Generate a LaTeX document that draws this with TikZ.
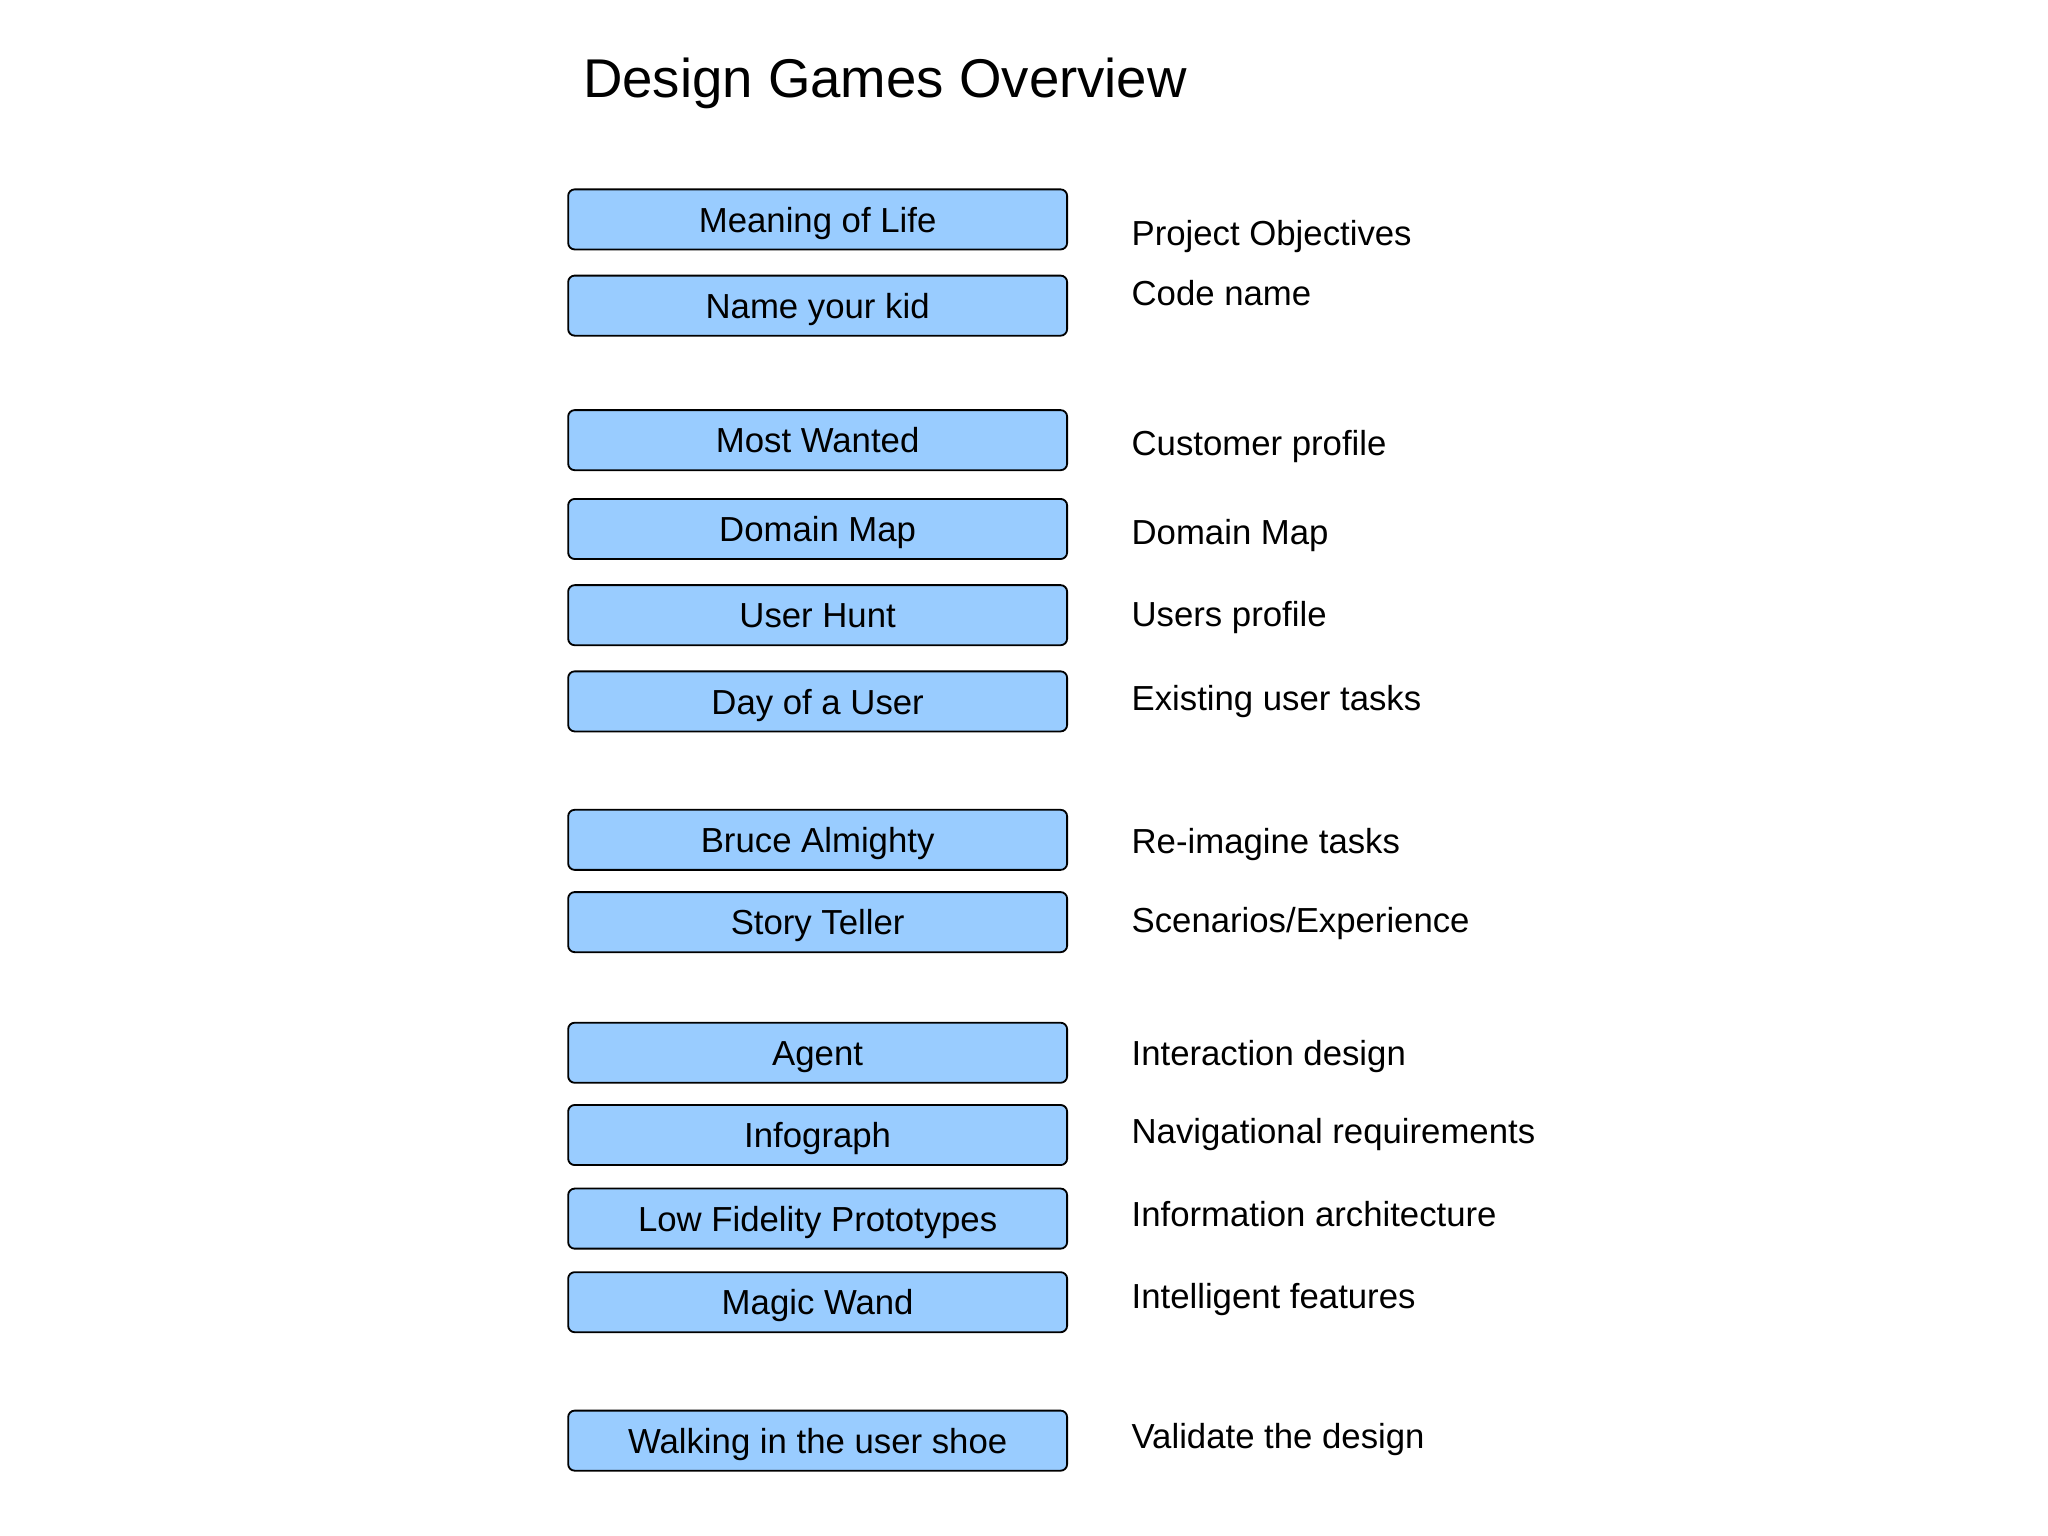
\documentclass[tikz,border=0pt]{standalone}
\usepackage{fontspec}
\setmainfont{Liberation Sans}
\usetikzlibrary{positioning}
\definecolor{skyfill}{HTML}{99CCFF}
\tikzset{
  game/.style={rectangle, rounded corners=2.5pt, draw=black, fill=skyfill, line width=0.7pt,
               minimum width=191pt, minimum height=23pt, inner sep=0pt, outer sep=0pt,
               text height=9.7pt, text depth=0pt, font=\fontsize{13.3}{16}\selectfont},
  outcome/.style={anchor=west, inner sep=0pt, text height=9.7pt, text depth=0pt,
                  font=\fontsize{13.3}{16}\selectfont},
  heading/.style={anchor=west, inner sep=0pt, font=\fontsize{20.9}{25}\selectfont}
}
\begin{document}
\begin{tikzpicture}[x=0.5pt, y=0.5pt, node distance=10pt]
  \useasboundingbox (0,0) rectangle (1568,-1176);
  \node[heading] (title) at (446,-64) {Design Games Overview};
  % games
  \node[game] (life) at (626,-168) {Meaning of Life};
  \node[game, below=of life] (kid) {Name your kid};
  \node[game, below=28.5pt of kid] (wanted) {Most Wanted};
  \node[game, below=11pt of wanted] (dmap) {Domain Map};
  \node[game, below=of dmap] (hunt) {User Hunt};
  \node[game, below=of hunt] (day) {Day of a User};
  \node[game, below=30pt of day] (bruce) {Bruce Almighty};
  \node[game, below=8.5pt of bruce] (story) {Story Teller};
  \node[game, below=27pt of story] (agent) {Agent};
  \node[game, below=8.5pt of agent] (info) {Infograph};
  \node[game, below=9pt of info] (lofi) {Low Fidelity Prototypes};
  \node[game, below=9pt of lofi] (wand) {Magic Wand};
  \node[game, below=30pt of wand] (shoe) {Walking in the user shoe};
  % outcomes
  \node[outcome] (objectives) at (866,-178) {Project Objectives};
  \node[outcome] (codename) at (866,-224) {Code name};
  \node[outcome] (customer) at (866,-339) {Customer profile};
  \node[outcome] (domain) at (866,-407) {Domain Map};
  \node[outcome] (users) at (866,-470) {Users profile};
  \node[outcome] (tasks) at (866,-534) {Existing user tasks};
  \node[outcome] (reimagine) at (866,-644) {Re-imagine tasks};
  \node[outcome] (scenarios) at (866,-704) {Scenarios/Experience};
  \node[outcome] (interaction) at (866,-806) {Interaction design};
  \node[outcome] (navigation) at (866,-866) {Navigational requirements};
  \node[outcome] (architecture) at (866,-929) {Information architecture};
  \node[outcome] (intelligent) at (866,-992) {Intelligent features};
  \node[outcome] (validate) at (866,-1099) {Validate the design};
\end{tikzpicture}
\end{document}
